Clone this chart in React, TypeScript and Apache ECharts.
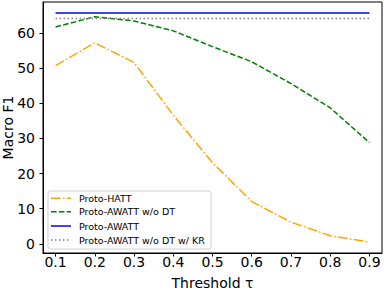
import React, { useEffect, useRef } from "react";
import * as echarts from "echarts";

const thresholds = [0.1, 0.2, 0.3, 0.4, 0.5, 0.6, 0.7, 0.8, 0.9];
const protoHATT = [50.7, 57.2, 51.6, 36.6, 23.1, 12.0, 6.2, 2.3, 0.5];
const protoAWATTwoDT = [61.7, 64.6, 63.4, 60.6, 56.1, 51.8, 45.6, 38.7, 28.8];
const protoAWATT = [65.7, 65.7, 65.7, 65.7, 65.7, 65.7, 65.7, 65.7, 65.7];
const protoAWATTwoDTwKR = [64.1, 64.1, 64.1, 64.1, 64.1, 64.1, 64.1, 64.1, 64.1];
const yTicks = [0, 10, 20, 30, 40, 50, 60];
const seriesNames = [
  "Proto-HATT",
  "Proto-AWATT w/o DT",
  "Proto-AWATT",
  "Proto-AWATT w/o DT w/ KR",
];
const seriesColors = ["#FFA500", "#008000", "#0000FF", "#808080"];
const seriesDashes: any[] = [[9.6, 2.4, 1.5, 2.4], [5.5, 2.4], "solid", [1.5, 2.5]];

const FONT = "DejaVu Sans";

export default function App() {
  const ref = useRef<HTMLDivElement>(null);
  useEffect(() => {
    if (!ref.current) return;
    const chart = echarts.init(ref.current, null, { renderer: "svg" });
    const pair = (vals: number[]) => thresholds.map((t, i) => [t, vals[i]]);
    const allVals = [protoHATT, protoAWATTwoDT, protoAWATT, protoAWATTwoDTwKR];
    const series = seriesNames.map((name, i) => ({
      name,
      type: "line",
      data: pair(allVals[i]),
      symbol: "none",
      lineStyle: { color: seriesColors[i], width: 1.5, type: seriesDashes[i] },
      itemStyle: { color: seriesColors[i] },
      z: 3,
    }));

    // legend drawn with graphic elements
    const lgX = 48, lgY = 191, lgW = 163, lgH = 58;
    const rowY = [198.3, 211.8, 226, 240];
    const legendChildren: any[] = [
      {
        type: "rect",
        shape: { x: lgX, y: lgY, width: lgW, height: lgH, r: 2.5 },
        style: { fill: "rgba(255,255,255,0.8)", stroke: "#d0d0d0", lineWidth: 1 },
      },
    ];
    seriesNames.forEach((name, i) => {
      legendChildren.push({
        type: "line",
        shape: { x1: 51, y1: rowY[i], x2: 71, y2: rowY[i] },
        style: {
          stroke: seriesColors[i],
          lineWidth: 1.5,
          lineDash: seriesDashes[i] === "solid" ? null : seriesDashes[i],
        },
      });
      legendChildren.push({
        type: "text",
        x: 79,
        y: rowY[i],
        style: {
          text: name,
          fontSize: 9.5,
          fontFamily: FONT,
          fill: "#000",
          verticalAlign: "middle",
          align: "left",
        },
      });
    });

    chart.setOption({
      animation: false,
      backgroundColor: "#fff",
      textStyle: { fontFamily: FONT },
      grid: {
        left: 43,
        right: 2,
        top: 2,
        bottom: 37,
        show: true,
        borderColor: "#000",
        borderWidth: 1,
        containLabel: false,
        outerBoundsMode: "none",
      },
      xAxis: {
        type: "value",
        min: 0.068,
        max: 0.932,
        name: "Threshold τ",
        nameLocation: "middle",
        nameGap: 23,
        nameMoveOverlap: false,
        nameTextStyle: { fontSize: 14, color: "#000", fontFamily: FONT },
        axisLine: { show: true, onZero: false, lineStyle: { color: "#000" } },
        axisTick: {
          show: true,
          customValues: thresholds,
          length: 3.5,
          lineStyle: { color: "#000" },
        },
        axisLabel: {
          customValues: thresholds,
          formatter: (v: number) => v.toFixed(1),
          fontSize: 14,
          color: "#000",
          margin: 2,
          fontFamily: FONT,
        },
        splitLine: { show: false },
      },
      yAxis: {
        type: "value",
        min: -2.6,
        max: 68.8,
        name: "Macro F1",
        nameLocation: "middle",
        nameGap: 28,
        nameMoveOverlap: false,
        nameTextStyle: { fontSize: 14, color: "#000", fontFamily: FONT },
        axisLine: { show: true, onZero: false, lineStyle: { color: "#000" } },
        axisTick: {
          show: true,
          customValues: yTicks,
          length: 3.5,
          lineStyle: { color: "#000" },
        },
        axisLabel: {
          customValues: yTicks,
          fontSize: 14,
          color: "#000",
          margin: 8,
          fontFamily: FONT,
        },
        splitLine: { show: false },
      },
      series,
      graphic: [{ type: "group", z: 100, children: legendChildren }],
    });
    return () => chart.dispose();
  }, []);
  return <div ref={ref} style={{ width: 384, height: 290, position: "absolute", left: 0, top: 0 }} />;
}
